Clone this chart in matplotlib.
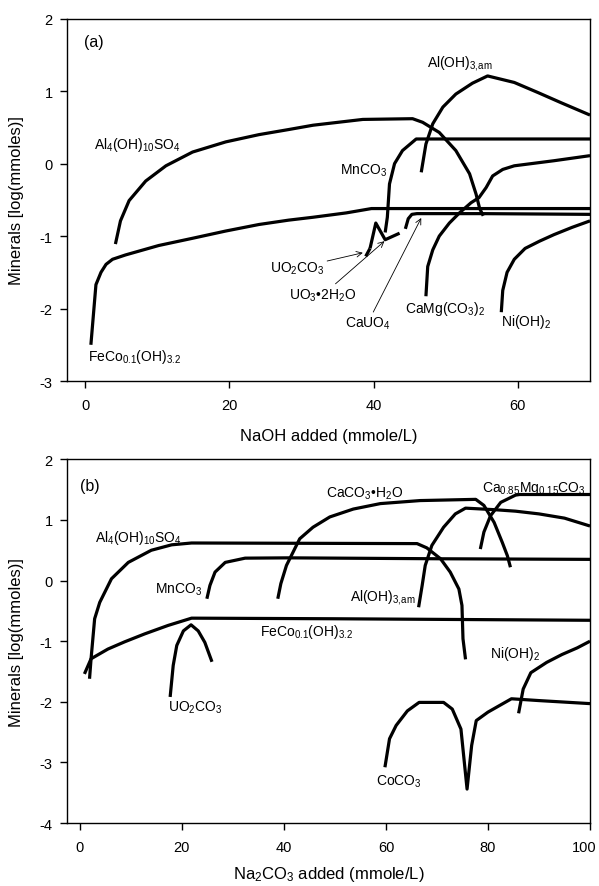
import matplotlib
matplotlib.use("Agg")
from matplotlib import pyplot as plt
from matplotlib.transforms import ScaledTranslation

plt.rcParams['font.family'] = ['Liberation Sans', 'DejaVu Sans']
plt.rcParams['mathtext.fontset'] = 'custom'
plt.rcParams['mathtext.rm'] = 'Liberation Sans'
plt.rcParams['mathtext.it'] = 'Liberation Sans:italic'
plt.rcParams['mathtext.default'] = 'rm'
plt.rcParams['axes.unicode_minus'] = False

# ---- panel (a): NaOH added ----
a_feco_x = [0.8, 1.5, 2.2, 2.9, 3.8, 5.6, 10.2, 14.9, 19.5, 24.1, 28.2, 31.6, 36.2, 39.7, 45, 55, 70]
a_feco_y = [-2.5, -1.67, -1.5, -1.39, -1.32, -1.26, -1.13, -1.03, -0.93, -0.84, -0.78, -0.74, -0.68, -0.62, -0.62, -0.62, -0.62]
a_al4_x = [4.2, 4.9, 6.1, 8.4, 11.2, 14.9, 19.5, 24.1, 28.2, 31.6, 38.5, 45.4, 46.8, 49.1, 51.4, 53.3, 54.2, 54.7, 55.2]
a_al4_y = [-1.11, -0.79, -0.51, -0.24, -0.03, 0.16, 0.3, 0.4, 0.47, 0.53, 0.61, 0.62, 0.57, 0.43, 0.18, -0.14, -0.42, -0.62, -0.72]
a_mn_x = [41.6, 41.9, 42.2, 42.9, 44.0, 45.9, 55, 70]
a_mn_y = [-0.95, -0.74, -0.28, 0.0, 0.18, 0.34, 0.34, 0.34]
a_aloh_x = [46.6, 47.25, 48.2, 49.6, 51.4, 53.7, 55.8, 59.5, 62.8, 66, 70]
a_aloh_y = [-0.12, 0.27, 0.55, 0.78, 0.96, 1.11, 1.21, 1.12, 0.98, 0.84, 0.67]
a_uo2_x = [38.9, 39.5]
a_uo2_y = [-1.28, -1.17]
a_uo3_x = [39.5, 40.3, 41.6, 43.6]
a_uo3_y = [-1.17, -0.82, -1.05, -0.96]
a_cauo4_x = [44.4, 44.8, 45.3, 46, 55, 70]
a_cauo4_y = [-0.9, -0.76, -0.7, -0.69, -0.69, -0.7]
a_camg_x = [47.25, 47.5, 48.2, 49.1, 50.5, 51.9, 53.5, 54.6, 55.6, 56.5, 57.9, 59.5, 65, 70]
a_camg_y = [-1.83, -1.42, -1.19, -1.0, -0.82, -0.68, -0.54, -0.47, -0.33, -0.17, -0.08, -0.03, 0.04, 0.11]
a_ni_x = [57.7, 57.9, 58.5, 59.5, 61, 63, 65, 67.5, 70]
a_ni_y = [-2.05, -1.75, -1.5, -1.32, -1.17, -1.07, -0.98, -0.88, -0.79]

# ---- panel (b): Na2CO3 added ----
b_feco_x = [0.9, 2.2, 5.5, 8.8, 12.7, 17.3, 21.9, 50, 100]
b_feco_y = [-1.54, -1.29, -1.13, -1.01, -0.88, -0.74, -0.62, -0.63, -0.655]
b_al4_x = [1.9, 2.2, 2.9, 3.9, 6.2, 9.5, 14.0, 18.0, 21.9, 66.1, 68.0, 70.7, 72.6, 74.3, 74.9, 75.1, 75.6]
b_al4_y = [-1.62, -1.29, -0.63, -0.36, 0.03, 0.3, 0.5, 0.59, 0.62, 0.61, 0.54, 0.36, 0.14, -0.14, -0.41, -0.96, -1.3]
b_mn_x = [24.9, 25.5, 26.5, 28.5, 32.4, 41, 70, 100]
b_mn_y = [-0.3, -0.08, 0.14, 0.3, 0.37, 0.375, 0.36, 0.35]
b_uo2_x = [17.7, 18.3, 19.0, 20.3, 21.8, 23.2, 24.5, 25.9]
b_uo2_y = [-1.92, -1.4, -1.07, -0.83, -0.73, -0.83, -1.02, -1.34]
b_caco3_x = [38.8, 39.4, 40.5, 43.1, 45.7, 49.0, 53.6, 58.9, 66.7, 77.6, 79.2, 81.2, 82.8, 83.8, 84.4]
b_caco3_y = [-0.3, -0.05, 0.25, 0.69, 0.88, 1.05, 1.18, 1.27, 1.32, 1.34, 1.24, 0.96, 0.63, 0.41, 0.22]
b_aloh_x = [66.4, 67.1, 67.7, 69.0, 71.3, 73.6, 75.6, 81.2, 85.4, 90, 95, 100]
b_aloh_y = [-0.44, -0.08, 0.25, 0.58, 0.88, 1.1, 1.195, 1.17, 1.145, 1.1, 1.03, 0.9]
b_camg_x = [78.5, 79.2, 80.5, 82.5, 85.4, 86.2, 100]
b_camg_y = [0.52, 0.8, 1.07, 1.29, 1.41, 1.42, 1.42]
b_ni_x = [86.0, 86.9, 88.4, 91.5, 94.5, 97.5, 100]
b_ni_y = [-2.19, -1.79, -1.52, -1.35, -1.22, -1.11, -1.0]
b_co_x = [59.8, 60.7, 62.0, 64.2, 66.5, 71.3, 73.0, 74.7, 75.9, 76.8, 77.7, 80.0, 84.6, 90, 100]
b_co_y = [-3.08, -2.61, -2.39, -2.15, -2.01, -2.01, -2.12, -2.45, -3.44, -2.72, -2.31, -2.17, -1.95, -1.98, -2.03]

LW = 2.3
FS = 10

fig = plt.figure(figsize=(5.99, 8.87), dpi=100)
ax1 = fig.add_axes([0.112, 0.5693, 0.873, 0.4085])
ax2 = fig.add_axes([0.112, 0.071, 0.873, 0.410])

for xs, ys in [(a_feco_x, a_feco_y), (a_al4_x, a_al4_y), (a_mn_x, a_mn_y),
               (a_aloh_x, a_aloh_y), (a_uo2_x, a_uo2_y), (a_uo3_x, a_uo3_y),
               (a_cauo4_x, a_cauo4_y), (a_camg_x, a_camg_y), (a_ni_x, a_ni_y)]:
    ax1.plot(xs, ys, color='black', lw=LW, solid_capstyle='butt')

for xs, ys in [(b_feco_x, b_feco_y), (b_al4_x, b_al4_y), (b_mn_x, b_mn_y),
               (b_uo2_x, b_uo2_y), (b_caco3_x, b_caco3_y), (b_aloh_x, b_aloh_y),
               (b_camg_x, b_camg_y), (b_ni_x, b_ni_y), (b_co_x, b_co_y)]:
    ax2.plot(xs, ys, color='black', lw=LW, solid_capstyle='butt')

# labels (a)
ax1.text(-0.1, 1.68, '(a)', fontsize=11.5, va='center')
ax1.text(1.2, 0.27, r'Al$_4$(OH)$_{10}$SO$_4$', fontsize=FS, va='center')
ax1.text(0.4, -2.65, r'FeCo$_{0.1}$(OH)$_{3.2}$', fontsize=FS, va='center')
ax1.text(35.4, -0.09, r'MnCO$_3$', fontsize=FS, va='center')
ax1.text(47.4, 1.40, r'Al(OH)$_{\mathrm{3{,}am}}$', fontsize=FS, va='center')
ax1.text(44.3, -1.99, r'CaMg(CO$_3$)$_2$', fontsize=FS, va='center')
ax1.text(57.6, -2.17, r'Ni(OH)$_2$', fontsize=FS, va='center')
arrow = dict(arrowstyle='->', lw=0.6, color='black', shrinkA=0, shrinkB=0)
ax1.annotate(r'UO$_2$CO$_3$', xy=(38.5, -1.23), xytext=(25.6, -1.44),
             fontsize=FS, va='center', arrowprops=arrow)
ax1.annotate(r'UO$_3$•2H$_2$O', xy=(41.5, -1.07), xytext=(28.3, -1.81),
             fontsize=FS, va='center', arrowprops=arrow)
ax1.annotate(r'CaUO$_4$', xy=(46.6, -0.75), xytext=(36.0, -2.2),
             fontsize=FS, va='center', arrowprops=arrow)

# labels (b)
ax2.text(0.1, 1.57, '(b)', fontsize=11.5, va='center')
ax2.text(3.0, 0.72, r'Al$_4$(OH)$_{10}$SO$_4$', fontsize=FS, va='center')
ax2.text(14.7, -0.14, r'MnCO$_3$', fontsize=FS, va='center')
ax2.text(17.3, -2.09, r'UO$_2$CO$_3$', fontsize=FS, va='center')
ax2.text(35.4, -0.84, r'FeCo$_{0.1}$(OH)$_{3.2}$', fontsize=FS, va='center')
ax2.text(48.2, 1.44, r'CaCO$_3$•H$_2$O', fontsize=FS, va='center')
ax2.text(53.0, -0.26, r'Al(OH)$_{\mathrm{3{,}am}}$', fontsize=FS, va='center')
ax2.text(78.9, 1.54, r'Ca$_{0.85}$Mg$_{0.15}$CO$_3$', fontsize=FS, va='center')
ax2.text(80.3, -1.19, r'Ni(OH)$_2$', fontsize=FS, va='center')
ax2.text(58.0, -3.30, r'CoCO$_3$', fontsize=FS, va='center')

ax1.set_xlim(-2.5, 70)
ax1.set_ylim(-3, 2)
ax1.set_xticks([0, 20, 40, 60])
ax1.set_yticks([-3, -2, -1, 0, 1, 2])
ax1.set_xlabel('NaOH added (mmole/L)', fontsize=12, labelpad=11)
ax1.set_ylabel('Minerals [log(mmoles)]', fontsize=12, labelpad=11)

ax2.set_xlim(-2.5, 100)
ax2.set_ylim(-4, 2)
ax2.set_xticks([0, 20, 40, 60, 80, 100])
ax2.set_yticks([-4, -3, -2, -1, 0, 1, 2])
ax2.set_xlabel(r'Na$_2$CO$_3$ added (mmole/L)', fontsize=12, labelpad=7)
ax2.set_ylabel('Minerals [log(mmoles)]', fontsize=12, labelpad=11)

for ax in (ax1, ax2):
    for s in ax.spines.values():
        s.set_linewidth(1.0)
    ax.tick_params(direction='out', length=5, width=1, labelsize=10.5,
                   top=False, right=False)
    ax.tick_params(axis='x', pad=7.5)
    ax.tick_params(axis='y', pad=5.5)

# keep the last "100" label inside the picture
last = ax2.get_xticklabels()[-1]
last.set_transform(last.get_transform() + ScaledTranslation(-4 / 72, 0, fig.dpi_scale_trans))

fig.savefig('out.png', dpi=100)
